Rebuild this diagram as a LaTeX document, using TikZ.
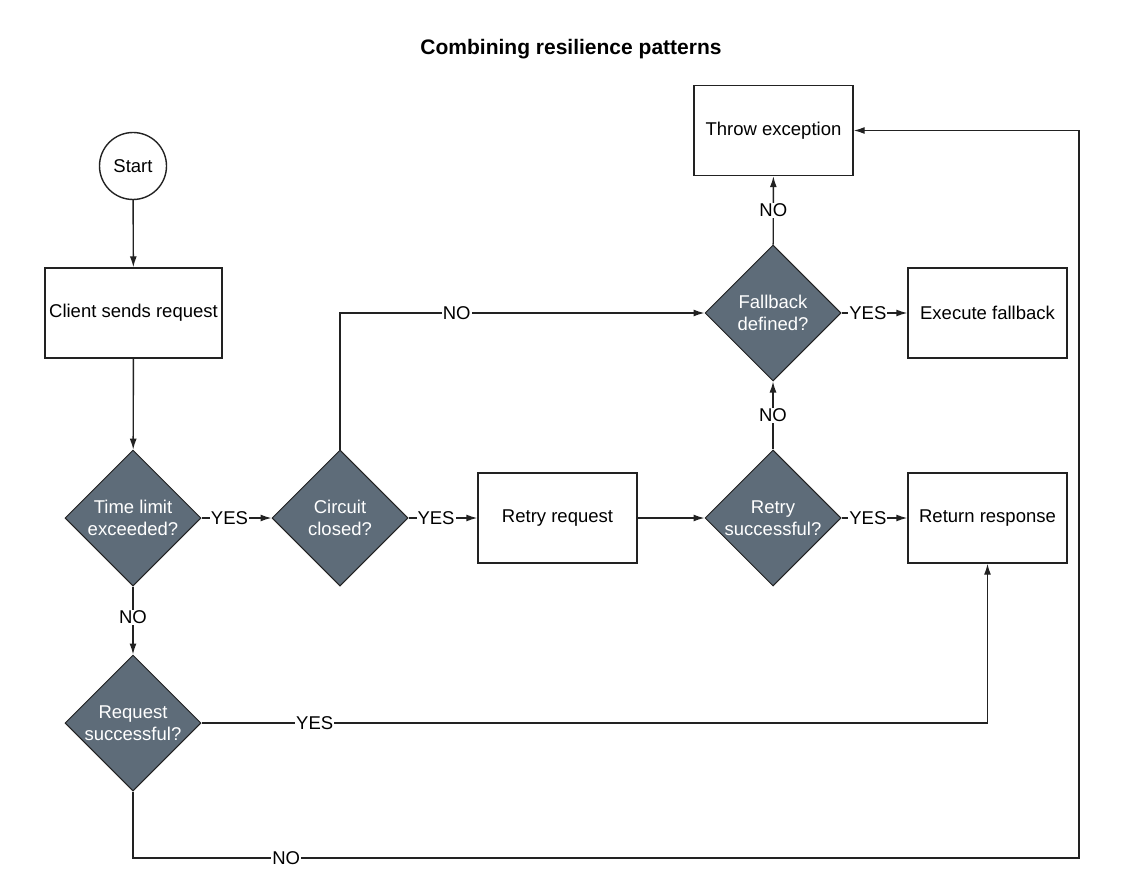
\documentclass[tikz,border=0pt]{standalone}
\usepackage{fontspec}
\setmainfont{Liberation Sans}
\usetikzlibrary{shapes.geometric,arrows.meta}
\definecolor{dia}{HTML}{5E6C79}
\definecolor{ln}{HTML}{222222}
\tikzset{
  box/.style={draw=ln, line width=1.4pt, fill=white, minimum width=159pt, minimum height=90pt, inner sep=0pt, font=\fontsize{18.5}{22}\selectfont},
  dec/.style={draw=ln, line width=1pt, fill=dia, shape=diamond, minimum width=136pt, minimum height=136pt, aspect=1, inner sep=0pt, text=white, align=center, font=\fontsize{18.5}{22}\selectfont},
  startc/.style={draw=ln, line width=1.4pt, circle, minimum size=67pt, inner sep=0pt, font=\fontsize{18.5}{22}\selectfont},
  arr/.style={draw=ln, line width=1.4pt, -{Latex[length=11pt,width=7pt]}},
  lab/.style={fill=white, inner sep=1pt, font=\fontsize{18.5}{22}\selectfont},
}
\begin{document}
\begin{tikzpicture}[x=1pt,y=-1pt]
\useasboundingbox (0,0) rectangle (1135,896);
\node[font=\bfseries\fontsize{21}{25}\selectfont] (title) at (571,49) {Combining resilience patterns};
\node[startc] (start) at (133,166) {Start};
\node[box, minimum width=177pt] (client) at (133.5,313) {Client sends request};
\node[dec] (tl) at (133,518) {Time limit\\exceeded?};
\node[dec] (cc) at (340,518) {Circuit\\closed?};
\node[box] (rr) at (557.5,518) {Retry request};
\node[dec] (rs2) at (773,518) {Retry\\successful?};
\node[box] (resp) at (987.5,518) {Return response};
\node[dec] (fb) at (773,313) {Fallback\\defined?};
\node[box] (ef) at (987.5,313) {Execute fallback};
\node[box] (te) at (773.5,130.5) {Throw exception};
\node[dec] (rq) at (133,723) {Request\\successful?};
\coordinate (br) at (1079,858);

\draw[arr] (start) -- (client);
\draw[arr] (client) -- (tl);
\draw[arr] (tl) -- node[lab, pos=0.4] {YES} (cc);
\draw[arr] (cc) -- node[lab, pos=0.4] {YES} (rr);
\draw[arr] (rr) -- (rs2);
\draw[arr] (rs2) -- node[lab, pos=0.4] {YES} (resp);
\draw[arr] (rs2) -- node[lab] {NO} (fb);
\draw[arr] (fb) -- node[lab, pos=0.4] {YES} (ef);
\draw[arr] (fb) -- node[lab] {NO} (te);
\draw[arr] (cc.north) |- node[lab, pos=0.66] {NO} (fb.west);
\draw[arr] (tl) -- node[lab, pos=0.45] {NO} (rq);
\draw[arr] (rq.east) -| node[lab, pos=0.072] {YES} (resp.south);
\draw[arr] (rq.south) |- node[lab, pos=0.581] {NO} (br) |- (te.east);
\end{tikzpicture}
\end{document}
